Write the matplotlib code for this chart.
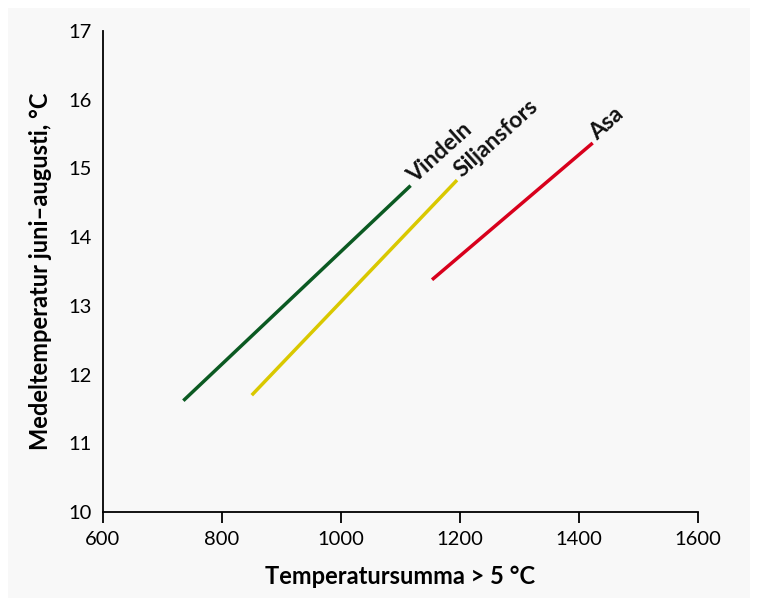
import matplotlib.pyplot as plt
from matplotlib.patches import Rectangle

plt.rcParams['font.family'] = ['Lato', 'DejaVu Sans']

# data
names = ['Vindeln', 'Siljansfors', 'Asa']
x_start = [735, 850, 1153]
x_end = [1117, 1195, 1423]
y_start = [11.62, 11.70, 13.38]
y_end = [14.75, 14.83, 15.37]
colors = ['#0b5a22', '#d9c800', '#d8001c']

fig = plt.figure(figsize=(7.58, 6.06), dpi=100, facecolor='white')
# light grey panel behind everything
fig.patches.append(Rectangle((8 / 758, 8 / 606), 742 / 758, 590 / 606,
                             transform=fig.transFigure, facecolor='#f8f8f8',
                             edgecolor='none', zorder=-10))

ax = fig.add_axes([103 / 758, 1 - 512 / 606, 595 / 758, 481 / 606])
ax.set_facecolor('none')
ax.set_zorder(5)

for name, x0, x1, y0, y1, c in zip(names, x_start, x_end, y_start, y_end, colors):
    ax.plot([x0, x1], [y0, y1], color=c, lw=2.5, solid_capstyle='butt')
    ax.annotate(name, (x1, y1), xytext=(5, -1), textcoords='offset points',
                rotation=42, rotation_mode='anchor', ha='left', va='bottom',
                fontsize=16.5, fontweight='bold', color='#111111')

ax.set_xlim(600, 1600)
ax.set_ylim(10, 17)
ax.set_xticks(range(600, 1601, 200))
ax.set_yticks(range(10, 18))
ax.spines['top'].set_visible(False)
ax.spines['right'].set_visible(False)
ax.spines['left'].set_linewidth(1.3)
ax.spines['bottom'].set_linewidth(1.3)
ax.tick_params(axis='x', direction='out', length=8, width=1.3, labelsize=14.5, pad=6)
ax.tick_params(axis='y', length=0, labelsize=14.5, pad=8)

ax.set_xlabel('Temperatursumma > 5 \u00b0C', fontsize=17, fontweight='bold', labelpad=12)
ax.set_ylabel('Medeltemperatur juni\u2013augusti, \u00b0C', fontsize=17, fontweight='bold', labelpad=12)

plt.savefig('out.png', dpi=100, facecolor=fig.get_facecolor())
